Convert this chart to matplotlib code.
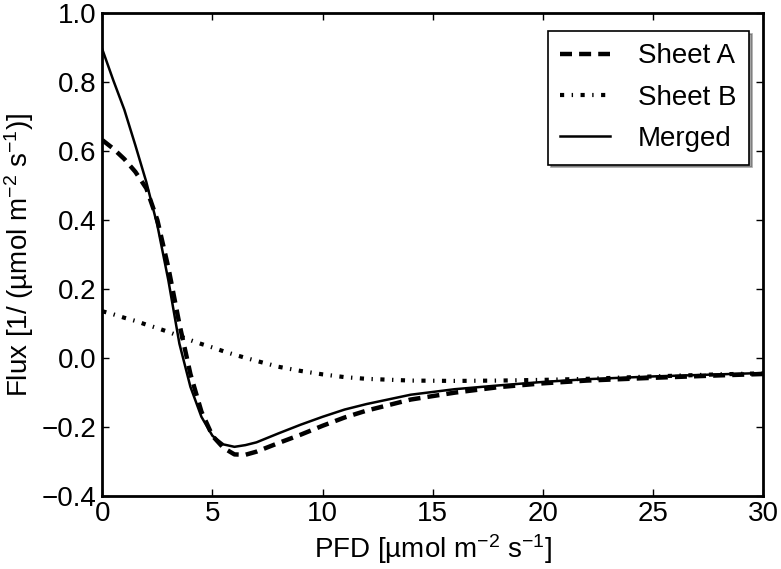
import matplotlib
matplotlib.use("Agg")
from matplotlib import pyplot as plt

# PFD values
pfd = [0, 0.5, 1, 1.5, 2, 2.5, 3, 3.5, 4, 4.5, 5, 5.5, 6, 6.5, 7,
       8, 9, 10, 11, 12, 14, 16, 18, 20, 22, 25, 28, 30]

sheet_a = [0.632, 0.607, 0.577, 0.54, 0.492, 0.40, 0.262, 0.099, -0.046, -0.155,
           -0.225, -0.26, -0.279, -0.28, -0.271, -0.246, -0.222, -0.196, -0.172,
           -0.152, -0.12, -0.10, -0.084, -0.073, -0.065, -0.057, -0.05, -0.046]

sheet_b = [0.136, 0.127, 0.117, 0.108, 0.097, 0.087, 0.076, 0.064, 0.052, 0.041,
           0.031, 0.02, 0.01, 0.001, -0.008, -0.025, -0.037, -0.047, -0.055,
           -0.06, -0.065, -0.066, -0.065, -0.063, -0.06, -0.053, -0.047, -0.044]

merged = [0.895, 0.805, 0.72, 0.617, 0.51, 0.385, 0.225, 0.042, -0.083, -0.17,
          -0.225, -0.25, -0.257, -0.252, -0.244, -0.218, -0.193, -0.17, -0.149,
          -0.133, -0.106, -0.09, -0.079, -0.069, -0.061, -0.053, -0.047, -0.043]

xticks = [0, 5, 10, 15, 20, 25, 30]
yticks = [-0.4, -0.2, 0.0, 0.2, 0.4, 0.6, 0.8, 1.0]

plt.rcParams['font.family'] = ['Liberation Sans', 'DejaVu Sans']
plt.rcParams['mathtext.default'] = 'regular'
plt.rcParams['font.size'] = 20

fig, ax = plt.subplots(figsize=(7.81, 5.69), dpi=100)
plt.subplots_adjust(left=0.131, right=0.977, top=0.977, bottom=0.128)

ax.plot(pfd, sheet_a, color='k', lw=3.2, dashes=(2.7, 1.6), label='Sheet A')
ax.plot(pfd, sheet_b, color='k', lw=3, dashes=(1, 1.8, 0.33, 1.8), label='Sheet B')
ax.plot(pfd, merged, color='k', lw=1.8, label='Merged')

ax.set_xlim(0, 30)
ax.set_ylim(-0.4, 1.0)
ax.set_xticks(xticks)
ax.set_yticks(yticks)
ax.set_yticklabels(['%.1f' % t if t >= 0 else '\u2212%.1f' % abs(t) for t in yticks])
ax.tick_params(direction='in', top=True, right=True, length=5, width=1)
ax.tick_params(axis='y', pad=4)
for s in ax.spines.values():
    s.set_linewidth(2)

ax.set_xlabel('PFD [\u00b5mol m$^{-2}$ s$^{-1}$]', labelpad=4)
ax.set_ylabel('Flux [1/ (\u00b5mol m$^{-2}$ s$^{-1}$)]', labelpad=4)

leg = ax.legend(loc='upper right', bbox_to_anchor=(0.979, 0.963), borderaxespad=0,
                fancybox=False, shadow=True, handlelength=1.8, handletextpad=1.0,
                labelspacing=0.55, borderpad=0.45)
leg.get_frame().set_edgecolor('k')
leg.get_frame().set_linewidth(1.2)

plt.savefig("out.png", dpi=100)
